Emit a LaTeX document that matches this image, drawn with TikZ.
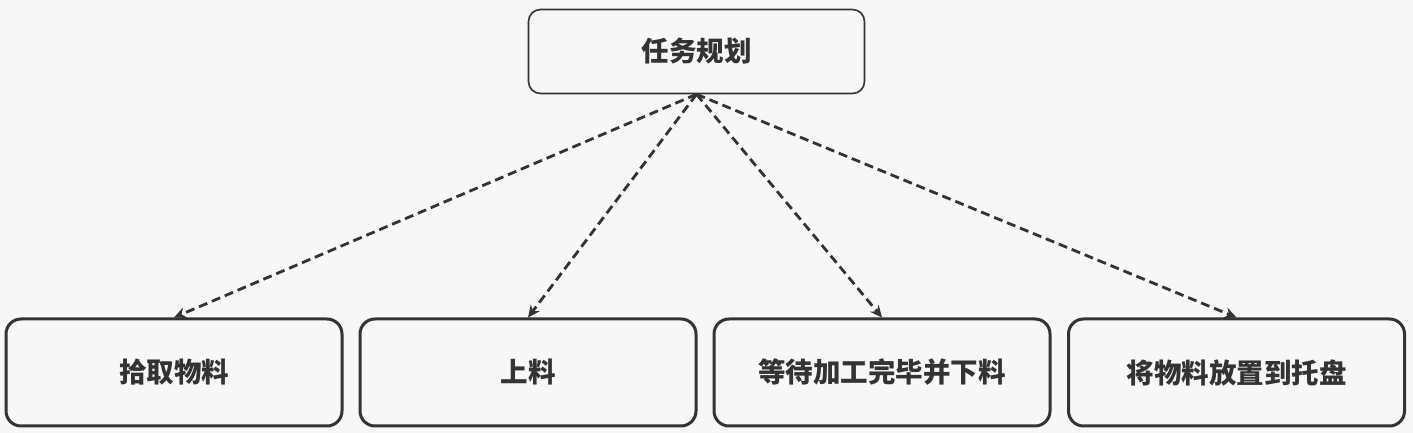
\documentclass[tikz,border=0pt]{standalone}
\usepackage{fontspec}
\setmainfont{Noto Sans CJK SC}
\usetikzlibrary{arrows.meta}
\definecolor{ink}{HTML}{333333}
\definecolor{bg}{HTML}{F7F7F7}
\begin{document}
\begin{tikzpicture}[x=1pt,y=1pt,
  topbox/.style={draw=ink,line width=1.6pt,rounded corners=12pt,minimum width=336pt,minimum height=84pt,inner sep=0pt,font=\fontsize{27.5}{30}\selectfont\bfseries,text=ink},
  subbox/.style={draw=ink,line width=3pt,rounded corners=15pt,minimum width=336pt,minimum height=107pt,inner sep=0pt,font=\fontsize{27.5}{30}\selectfont\bfseries,text=ink},
  link/.style={draw=ink,line width=2.8pt,dash pattern=on 9pt off 5pt,-{Stealth[length=12pt,width=11pt]}}]
\fill[bg] (0,0) rectangle (1413,433);
\useasboundingbox (0,0) rectangle (1413,433);
\node[topbox] (plan) at (696.5,381.5) {任务规划};
\node[subbox] (pick) at (174,60.5) {拾取物料};
\node[subbox] (load) at (528,60.5) {上料};
\node[subbox] (wait) at (882,60.5) {等待加工完毕并下料};
\node[subbox] (place) at (1236.5,60.5) {将物料放置到托盘};
\coordinate (src) at (plan.south);
\draw[link] (src) -- (pick.north);
\draw[link] (src) -- (load.north);
\draw[link] (src) -- (wait.north);
\draw[link] (src) -- (place.north);
\end{tikzpicture}
\end{document}
